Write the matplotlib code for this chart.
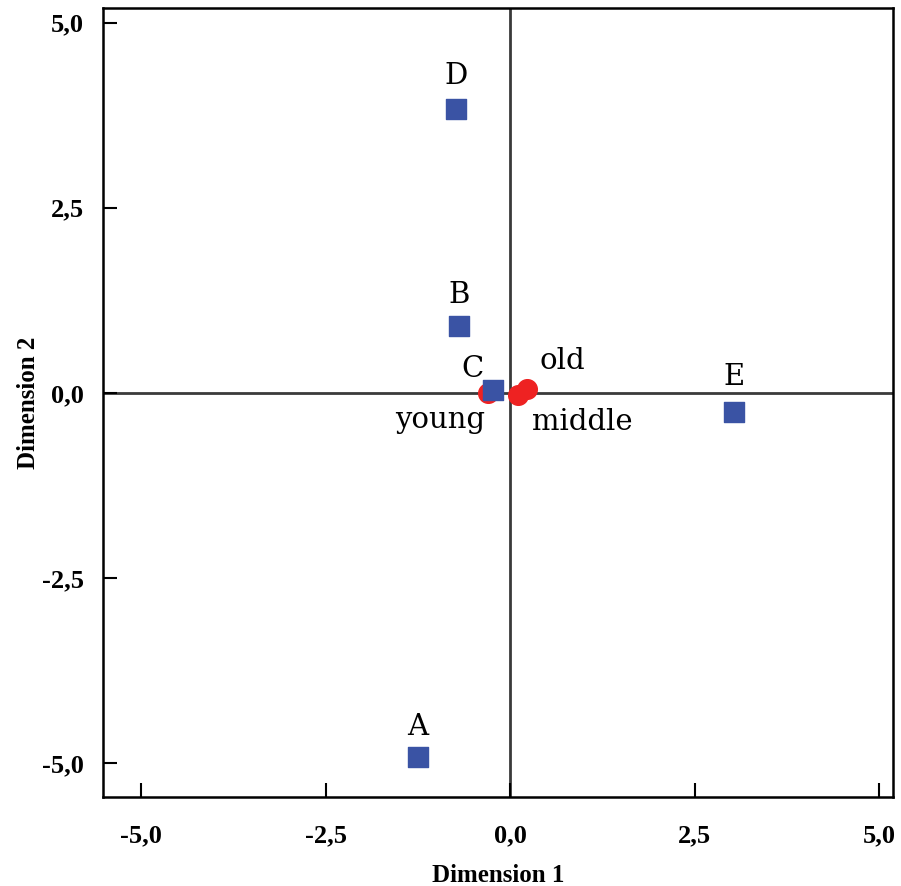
import matplotlib
matplotlib.use("Agg")
from matplotlib import pyplot as plt
from matplotlib.ticker import FuncFormatter
from matplotlib.font_manager import FontProperties

# category points (squares)
cat_names = ["A", "B", "C", "D", "E"]
cat_x = [-1.25, -0.69, -0.23, -0.73, 3.04]
cat_y = [-4.92, 0.90, 0.04, 3.84, -0.26]

# age groups (red circles)
age_names = ["young", "middle", "old"]
age_x = [-0.30, 0.11, 0.23]
age_y = [0.00, -0.03, 0.05]

ticks = [-5.0, -2.5, 0.0, 2.5, 5.0]

fig = plt.figure(figsize=(9.01, 8.86), dpi=100)
ax = fig.add_axes([0.1143, 0.1005, 0.8769, 0.8905])

ax.axhline(0, color="#3a3a3a", lw=2, zorder=1)
ax.axvline(0, color="#3a3a3a", lw=2, zorder=1)

ax.scatter(age_x, age_y, s=200, marker="o", color="#ee2222", zorder=2)
ax.scatter(cat_x, cat_y, s=190, marker="s", color="#3a53a4", zorder=3)

lab_font = dict(family="DejaVu Serif", fontsize=21, color="black")
offsets = {"A": (0, 0.40), "B": (0, 0.42), "C": (-0.28, 0.28),
           "D": (0, 0.44), "E": (0, 0.47)}
for n, x, y in zip(cat_names, cat_x, cat_y):
    dx, dy = offsets[n]
    ax.text(x + dx, y + dy, n, ha="center", va="center", **lab_font)

age_off = {"young": (-0.65, -0.37), "middle": (0.87, -0.37), "old": (0.47, 0.38)}
for n, x, y in zip(age_names, age_x, age_y):
    dx, dy = age_off[n]
    ax.text(x + dx, y + dy, n, ha="center", va="center", **lab_font)

ax.set_xlim(-5.52, 5.19)
ax.set_ylim(-5.46, 5.2)
ax.set_xticks(ticks)
ax.set_yticks(ticks)
fmt = FuncFormatter(lambda v, p: ("%.1f" % v).replace(".", ","))
ax.xaxis.set_major_formatter(fmt)
ax.yaxis.set_major_formatter(fmt)

tick_font = FontProperties(family="Liberation Serif", weight="bold", size=19)
for lbl in ax.get_xticklabels() + ax.get_yticklabels():
    lbl.set_fontproperties(tick_font)
ax.tick_params(direction="in", length=10, width=1.5)
ax.tick_params(axis="x", pad=20)
ax.tick_params(axis="y", pad=14)

for s in ax.spines.values():
    s.set_linewidth(1.8)

axis_font = FontProperties(family="Liberation Serif", weight="bold", size=18)
ax.set_xlabel("Dimension 1", fontproperties=axis_font, labelpad=12)
ax.set_ylabel("Dimension 2", fontproperties=axis_font, labelpad=1)

fig.savefig("out.png", dpi=100)
